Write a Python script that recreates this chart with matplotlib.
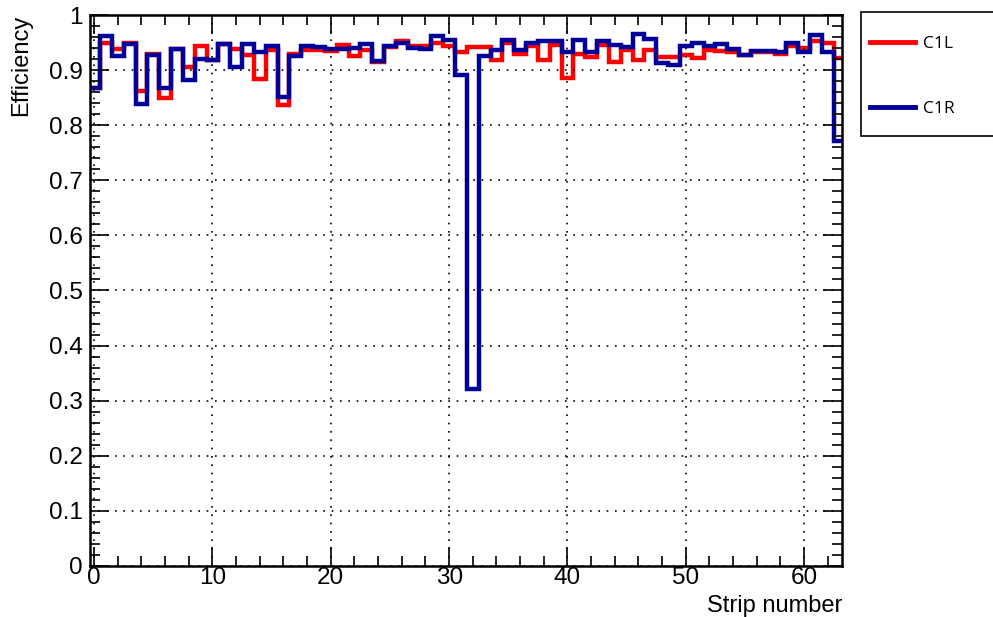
import matplotlib
matplotlib.use("Agg")
import matplotlib.pyplot as plt
from matplotlib.patches import Rectangle
from matplotlib.ticker import MultipleLocator, FuncFormatter
import numpy as np


# NOTE : Efficiency per strip
strips=np.arange(64)

c1l=[0.867, 0.950, 0.938, 0.950, 0.862, 0.930, 0.850, 0.938, 0.906, 0.944,
     0.918, 0.947, 0.938, 0.928, 0.883, 0.936, 0.837, 0.930, 0.936, 0.936,
     0.935, 0.945, 0.926, 0.936, 0.914, 0.942, 0.953, 0.944, 0.944, 0.950,
     0.944, 0.933, 0.942, 0.942, 0.919, 0.949, 0.930, 0.944, 0.919, 0.946,
     0.885, 0.930, 0.923, 0.946, 0.915, 0.936, 0.919, 0.936, 0.924, 0.924,
     0.928, 0.922, 0.936, 0.935, 0.932, 0.928, 0.932, 0.932, 0.930, 0.944,
     0.941, 0.953, 0.949, 0.922]

c1r=[0.867, 0.961, 0.926, 0.947, 0.839, 0.928, 0.868, 0.938, 0.882, 0.921,
     0.918, 0.947, 0.906, 0.947, 0.933, 0.944, 0.851, 0.926, 0.944, 0.942,
     0.938, 0.939, 0.941, 0.947, 0.916, 0.944, 0.949, 0.941, 0.938, 0.962,
     0.955, 0.891, 0.322, 0.926, 0.936, 0.955, 0.936, 0.950, 0.953, 0.952,
     0.932, 0.955, 0.933, 0.952, 0.946, 0.942, 0.965, 0.956, 0.913, 0.910,
     0.944, 0.949, 0.944, 0.947, 0.938, 0.927, 0.935, 0.935, 0.932, 0.950,
     0.933, 0.964, 0.932, 0.771]

labels=["C1L", "C1R"]

plt.rcParams["font.family"]=["Liberation Sans", "DejaVu Sans"]

fig=plt.figure(figsize=(9.93, 6.17), dpi=100)
ax=fig.add_axes([90/993, 1-566/617, 752/993, 551/617])

edges=np.append(strips-0.5, strips[-1]+0.5)
ax.stairs(c1l, edges, baseline=None, color="#ff0000", linewidth=3.2, label=labels[0])
ax.stairs(c1r, edges, baseline=None, color="#000099", linewidth=3.2, label=labels[1])

ax.set_xlim(-0.35, 63.2)
ax.set_ylim(0, 1)

ax.xaxis.set_major_locator(MultipleLocator(10))
ax.xaxis.set_minor_locator(MultipleLocator(2))
ax.yaxis.set_major_locator(MultipleLocator(0.1))
ax.yaxis.set_minor_locator(MultipleLocator(0.02))
ax.yaxis.set_major_formatter(FuncFormatter(lambda v, p: f"{v:g}"))

ax.tick_params(which="both", direction="in", top=True, right=True, labelsize=17.5, width=1.2)
ax.tick_params(axis="y", pad=5)
ax.tick_params(axis="x", pad=1)
ax.tick_params(which="major", length=14)
ax.tick_params(which="minor", length=7)
for s in ax.spines.values():
    s.set_linewidth(1.8)

ax.grid(True, which="major", color="black", linestyle=(0, (1, 4)), linewidth=1.2)

ax.set_xlabel("Strip number", fontsize=17, loc="right")
ax.xaxis.set_label_coords(1.0, -0.052)
# NOTE : y title placed by hand, top aligned like ROOT
fig.text(10/993, 1-15/617, "Efficiency", fontsize=17, rotation=90, ha="left", va="top")

# NOTE : legend box drawn separately so the padding matches
fig.patches.append(Rectangle((861/993, 1-136/617), 140/993, 124/617, transform=fig.transFigure,
                             facecolor="white", edgecolor="black", linewidth=1.2))
leg=fig.legend(loc="upper left", bbox_to_anchor=(870/993, 1-36/617), borderaxespad=0,
               frameon=False, handlelength=2.6, labelspacing=2.8, borderpad=0,
               handletextpad=0.46, prop={"family": "Open Sans", "size": 12.5})
for h in leg.get_lines():
    h.set_linewidth(3.5)

plt.savefig("out.png", dpi=100)
plt.close()
